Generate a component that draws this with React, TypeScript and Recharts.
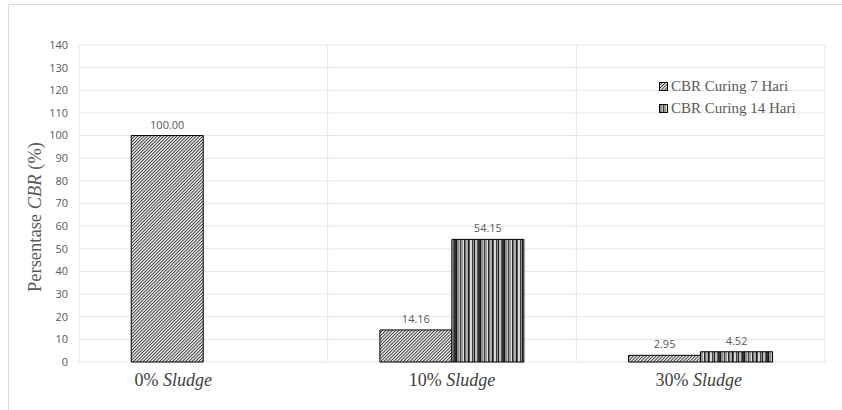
import { BarChart, Bar, XAxis, YAxis, CartesianGrid, LabelList } from 'recharts'

const categories = ['0%', '10%', '30%']
const cbr7 = [100.0, 14.16, 2.95]
const cbr14: (number | null)[] = [null, 54.15, 4.52]
const yTicks = [0, 10, 20, 30, 40, 50, 60, 70, 80, 90, 100, 110, 120, 130, 140]
const seriesNames = ['CBR Curing 7 Hari', 'CBR Curing 14 Hari']

// manual nudges so the category labels sit like the original
const labelShift = [-30, 0, -2]

const data = categories.map((c, i) => ({ name: c, d7: cbr7[i], d14: cbr14[i] }))

const gray = '#595959'
const serif = '"Liberation Serif", "Times New Roman", serif'
const sans = '"Open Sans", "Liberation Sans", sans-serif'

const CategoryTick = (props: any) => {
  const { x, y, payload, index } = props
  return (
    <text x={x + (labelShift[index] || 0)} y={y + 16} textAnchor="middle" fill="#404040" fontFamily={serif} fontSize={18} style={{ fontFamily: serif, fontSize: 18 }}>
      {payload.value} <tspan fontStyle="italic" style={{ fontStyle: 'italic' }}>Sludge</tspan>
    </text>
  )
}

const Swatch = ({ fill }: { fill: string }) => (
  <svg width={9} height={9} style={{ marginRight: 3 }}>
    <rect x={0.5} y={0.5} width={8} height={8} fill={fill} stroke="#000" strokeWidth={1} />
  </svg>
)

const LegendBox = () => (
  <div style={{ position: 'absolute', left: 659, top: 75, fontFamily: serif, fontSize: 15, color: gray, lineHeight: '22px' }}>
    <div style={{ display: 'flex', alignItems: 'center' }}>
      <Swatch fill="url(#hatch7)" />
      {seriesNames[0]}
    </div>
    <div style={{ display: 'flex', alignItems: 'center' }}>
      <Swatch fill="url(#stripe14)" />
      {seriesNames[1]}
    </div>
  </div>
)

const YTitle = () => (
  <div
    style={{
      position: 'absolute', left: 35, top: 217, width: 300, marginLeft: -150, height: 24, marginTop: -12,
      lineHeight: '24px', textAlign: 'center', transform: 'rotate(-90deg)',
      fontFamily: serif, fontSize: 18.5, color: gray, whiteSpace: 'nowrap',
    }}
  >
    Persentase <i>CBR</i> (%)
  </div>
)

const stripes: [number, number, string][] = [
  [0, 1, '#1a1a1a'], [1, 2, '#8c8c8c'], [3, 1, '#c4c4c4'], [4, 1, '#3a3a3a'],
  [5, 2, '#9a9a9a'], [7, 1, '#dedede'], [8, 1, '#2b2b2b'], [9, 1, '#6f6f6f'],
  [10, 2, '#b0b0b0'], [12, 1, '#111111'], [13, 1, '#5c5c5c'], [14, 2, '#d6d6d6'],
  [16, 1, '#404040'], [17, 1, '#8f8f8f'], [18, 1, '#1f1f1f'], [19, 2, '#bcbcbc'],
  [21, 1, '#5e5e5e'], [22, 2, '#2e2e2e'],
]

export default function App() {
  return (
    <div style={{ position: 'absolute', left: 0, top: 0, width: 842, height: 410, overflow: 'hidden', background: '#fff' }}>
      <div style={{ position: 'absolute', left: 8, top: 4, width: 900, height: 500, border: '1px solid #d9d9d9' }} />
      <BarChart
        width={842}
        height={410}
        data={data}
        margin={{ top: 45, right: 17, bottom: 18, left: 0 }}
        barCategoryGap="21%"
        barGap={0}
        style={{ position: 'absolute', left: 0, top: 0 }}
      >
        <defs>
          <pattern id="hatch7" patternUnits="userSpaceOnUse" width={2.3} height={2.3} patternTransform="rotate(45)">
            <rect width={2.3} height={2.3} fill="#eeeeee" />
            <rect width={0.9} height={2.3} fill="#333333" />
          </pattern>
          <pattern id="stripe14" patternUnits="userSpaceOnUse" width={24} height={10}>
            {stripes.map(([sx, w, c], i) => (
              <rect key={i} x={sx} y={0} width={w} height={10} fill={c} />
            ))}
          </pattern>
        </defs>
        <CartesianGrid
          stroke="#e6e6e6"
          verticalCoordinatesGenerator={({ offset }: any) =>
            categories.map((_, i) => offset.left + (i * offset.width) / categories.length).concat(offset.left + offset.width)
          }
        />
        <XAxis dataKey="name" axisLine={false} tickLine={false} height={30} tick={<CategoryTick />} interval={0} />
        <YAxis
          width={79}
          domain={[0, 140]}
          ticks={yTicks}
          interval={0}
          axisLine={false}
          tickLine={false}
          tickSize={0}
          tickMargin={11}
          tick={{ fill: gray, fontSize: 11, fontFamily: sans }}
        />
        <Bar dataKey="d7" name={seriesNames[0]} fill="url(#hatch7)" stroke="#000" strokeWidth={1} isAnimationActive={false}>
          <LabelList dataKey="d7" position="top" offset={7} fill={gray} fontSize={11} fontFamily={sans} formatter={(v: any) => (v == null ? '' : Number(v).toFixed(2))} />
        </Bar>
        <Bar dataKey="d14" name={seriesNames[1]} fill="url(#stripe14)" stroke="#000" strokeWidth={1} isAnimationActive={false}>
          <LabelList dataKey="d14" position="top" offset={7} fill={gray} fontSize={11} fontFamily={sans} formatter={(v: any) => (v == null ? '' : Number(v).toFixed(2))} />
        </Bar>
      </BarChart>
      <YTitle />
      <LegendBox />
    </div>
  )
}
